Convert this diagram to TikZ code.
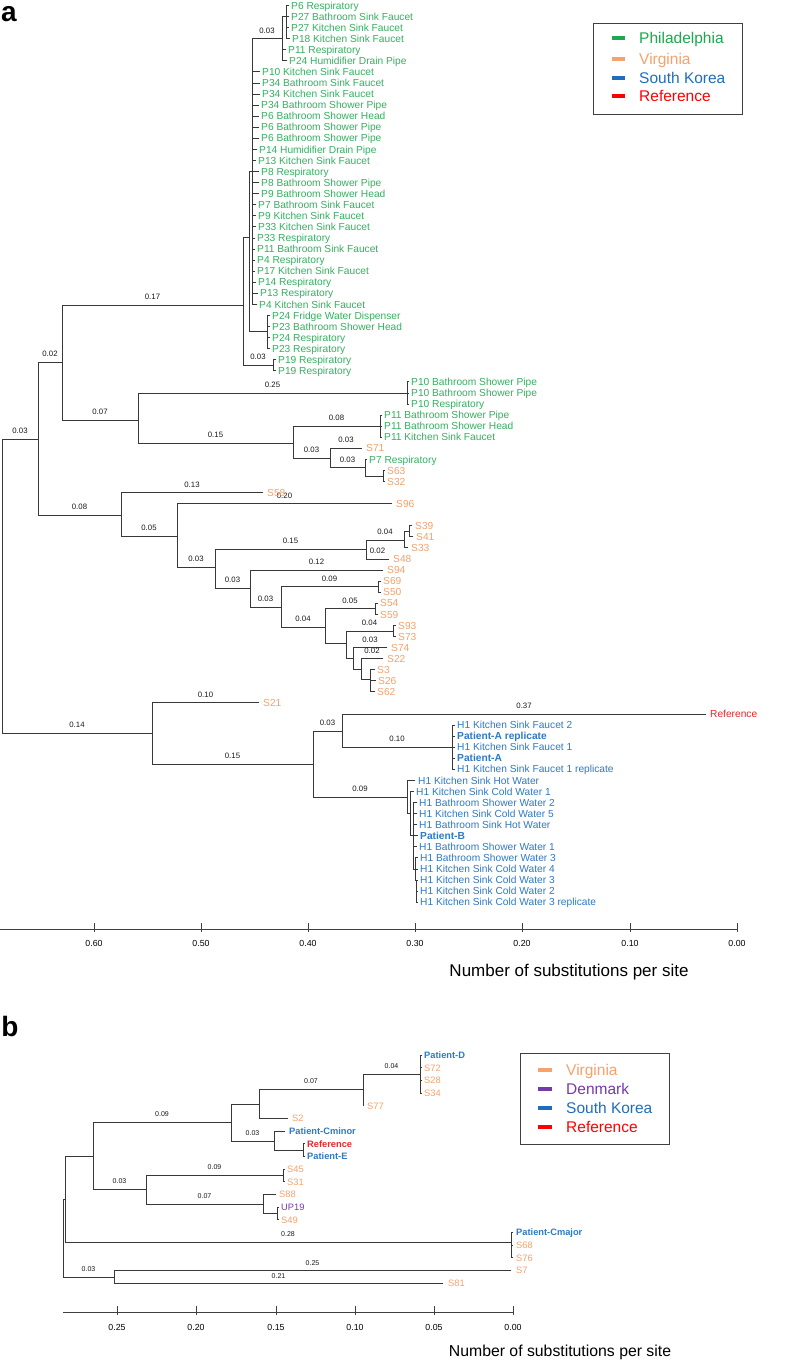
\documentclass[tikz,border=0pt]{standalone}
\usepackage{fontspec}
\setmainfont{Liberation Sans}
\definecolor{phil}{RGB}{52,176,96}
\definecolor{virg}{RGB}{245,162,108}
\definecolor{skor}{RGB}{46,122,196}
\definecolor{refc}{RGB}{238,36,40}
\definecolor{denm}{RGB}{118,58,168}
\definecolor{lgphil}{RGB}{28,168,78}
\definecolor{lgskor}{RGB}{30,110,190}
\begin{document}
\begin{tikzpicture}[x=1pt,y=-1pt,
  br/.style={draw=black!78,line width=0.9pt,line cap=rect},
  bl/.style={above,inner sep=0pt,yshift=5pt,font=\fontsize{7.8}{8}\selectfont,text=black!90},
  blb/.style={above,inner sep=0pt,yshift=4.5pt,font=\fontsize{7}{7}\selectfont,text=black!90},
  lf/.style={anchor=west,inner sep=0pt,text height=7.3pt,text depth=0pt,font=\fontsize{10.2}{11}\selectfont},
  lfb/.style={anchor=west,inner sep=0pt,text height=6.7pt,text depth=0pt,font=\fontsize{9.3}{10}\selectfont},
  ax/.style={draw=black!75,line width=1pt},
  tl/.style={inner sep=0pt,font=\fontsize{8.8}{9}\selectfont},
  lgd/.style={line width=4pt},
  lgt/.style={anchor=west,inner sep=0pt,text height=11pt,text depth=0pt,font=\fontsize{15.5}{16}\selectfont},
  pl/.style={inner sep=0pt,font=\fontsize{28}{30}\selectfont\bfseries}]
\useasboundingbox (0,0) rectangle (787,1361);
\fill[white] (0,0) rectangle (787,1361);

% ================= PANEL A =================
\node[pl] (pa) at (9,14) {a};

% root and backbone
\draw[br] (2,439) -- (2,733);
\draw[br] (2,439) -- node[bl] (ea1) {0.03} (38,439);
\draw[br] (2,733) -- node[bl] (ea2) {0.14} (152,733);
\draw[br] (38,362) -- (38,515);
\draw[br] (38,362) -- node[bl] (ea3) {0.02} (62,362);
\draw[br] (38,515) -- node[bl] (ea4) {0.08} (121,515);
\draw[br] (62,305) -- (62,420);
\draw[br] (62,305) -- node[bl] (ea5) {0.17} (243,305);
\draw[br] (62,420) -- node[bl] (ea6) {0.07} (138,420);

% Philadelphia big clade
\draw[br] (243,237) -- (243,365);
\draw[br] (243,365) -- node[bl] (ea7) {0.03} (273,365);
\draw[br] (273,359.7) -- (273,370.8);
\draw[br] (273,359.7) -- (276,359.7) (273,370.8) -- (276,370.8);
\draw[br] (243,237) -- (249,237);
\draw[br] (249,171) -- (249,331);
\draw[br] (249,171) -- (252,171);
\draw[br] (252,38.7) -- (252,304.4);
\draw[br] (252,38.7) -- node[bl] (ea8) {0.03} (282,38.7);
\draw[br] (282,16.6) -- (282,60.9);
\draw[br] (282,16.6) -- (286,16.6);
\draw[br] (286,5.5) -- (286,38.7);
\draw[br] (286,5.5) -- (289,5.5) (286,16.6) -- (289,16.6) (286,27.6) -- (289,27.6) (286,38.7) -- (290,38.7);
\draw[br] (282,49.8) -- (286,49.8) (282,60.9) -- (287,60.9);
\draw[br] (252,71.9) -- (260,71.9) (252,83.0) -- (260,83.0) (252,94.1) -- (260,94.1)
  (252,105.1) -- (259,105.1) (252,116.2) -- (259,116.2) (252,127.3) -- (259,127.3)
  (252,138.3) -- (259,138.3) (252,149.4) -- (257,149.4) (252,160.5) -- (256,160.5)
  (252,171.6) -- (259,171.6) (252,182.6) -- (259,182.6) (252,193.7) -- (259,193.7)
  (252,204.8) -- (256,204.8) (252,215.8) -- (256,215.8) (252,226.9) -- (256,226.9)
  (252,238.0) -- (255,238.0) (252,249.0) -- (255,249.0) (252,260.1) -- (255,260.1)
  (252,271.2) -- (255,271.2) (252,282.3) -- (256,282.3) (252,293.3) -- (258,293.3)
  (252,304.4) -- (257,304.4);
\draw[br] (249,331) -- (267,331);
\draw[br] (267,315.5) -- (267,348.7);
\draw[br] (267,315.5) -- (270,315.5) (267,326.5) -- (270,326.5) (267,337.6) -- (270,337.6) (267,348.7) -- (270,348.7);

\node[lf,text=phil] (a0) at (291,5.5) {P6 Respiratory};
\node[lf,text=phil] (a1) at (291,16.6) {P27 Bathroom Sink Faucet};
\node[lf,text=phil] (a2) at (291,27.6) {P27 Kitchen Sink Faucet};
\node[lf,text=phil] (a3) at (292,38.7) {P18 Kitchen Sink Faucet};
\node[lf,text=phil] (a4) at (288,49.8) {P11 Respiratory};
\node[lf,text=phil] (a5) at (289,60.9) {P24 Humidifier Drain Pipe};
\node[lf,text=phil] (a6) at (262,71.9) {P10 Kitchen Sink Faucet};
\node[lf,text=phil] (a7) at (262,83.0) {P34 Bathroom Sink Faucet};
\node[lf,text=phil] (a8) at (262,94.1) {P34 Kitchen Sink Faucet};
\node[lf,text=phil] (a9) at (261,105.1) {P34 Bathroom Shower Pipe};
\node[lf,text=phil] (a10) at (261,116.2) {P6 Bathroom Shower Head};
\node[lf,text=phil] (a11) at (261,127.3) {P6 Bathroom Shower Pipe};
\node[lf,text=phil] (a12) at (261,138.3) {P6 Bathroom Shower Pipe};
\node[lf,text=phil] (a13) at (259,149.4) {P14 Humidifier Drain Pipe};
\node[lf,text=phil] (a14) at (258,160.5) {P13 Kitchen Sink Faucet};
\node[lf,text=phil] (a15) at (261,171.6) {P8 Respiratory};
\node[lf,text=phil] (a16) at (261,182.6) {P8 Bathroom Shower Pipe};
\node[lf,text=phil] (a17) at (261,193.7) {P9 Bathroom Shower Head};
\node[lf,text=phil] (a18) at (258,204.8) {P7 Bathroom Sink Faucet};
\node[lf,text=phil] (a19) at (258,215.8) {P9 Kitchen Sink Faucet};
\node[lf,text=phil] (a20) at (258,226.9) {P33 Kitchen Sink Faucet};
\node[lf,text=phil] (a21) at (257,238.0) {P33 Respiratory};
\node[lf,text=phil] (a22) at (257,249.0) {P11 Bathroom Sink Faucet};
\node[lf,text=phil] (a23) at (257,260.1) {P4 Respiratory};
\node[lf,text=phil] (a24) at (257,271.2) {P17 Kitchen Sink Faucet};
\node[lf,text=phil] (a25) at (258,282.3) {P14 Respiratory};
\node[lf,text=phil] (a26) at (260,293.3) {P13 Respiratory};
\node[lf,text=phil] (a27) at (259,304.4) {P4 Kitchen Sink Faucet};
\node[lf,text=phil] (a28) at (272,315.5) {P24 Fridge Water Dispenser};
\node[lf,text=phil] (a29) at (272,326.5) {P23 Bathroom Shower Head};
\node[lf,text=phil] (a30) at (272,337.6) {P24 Respiratory};
\node[lf,text=phil] (a31) at (272,348.7) {P23 Respiratory};
\node[lf,text=phil] (a32) at (278,359.7) {P19 Respiratory};
\node[lf,text=phil] (a33) at (278,370.8) {P19 Respiratory};

% second Philadelphia clade
\draw[br] (138,393) -- (138,443);
\draw[br] (138,393) -- node[bl] (ea9) {0.25} (407,393);
\draw[br] (407,381.9) -- (407,404.0);
\draw[br] (407,381.9) -- (409,381.9) (407,393.0) -- (409,393.0) (407,404.0) -- (409,404.0);
\draw[br] (138,443) -- node[bl] (ea10) {0.15} (293,443);
\draw[br] (293,426) -- (293,458);
\draw[br] (293,426) -- node[bl] (ea11) {0.08} (380,426);
\draw[br] (380,415.1) -- (380,437.2);
\draw[br] (380,415.1) -- (382,415.1) (380,426.2) -- (382,426.2) (380,437.2) -- (382,437.2);
\draw[br] (293,458) -- node[bl] (ea12) {0.03} (330,458);
\draw[br] (330,448.3) -- (330,467.7);
\draw[br] (330,448.3) -- node[bl] (ea13) {0.03} (362,448.3);
\draw[br] (330,467.7) -- node[bl] (ea14) {0.03} (365,467.7);
\draw[br] (365,459.4) -- (365,476);
\draw[br] (365,459.4) -- (367,459.4);
\draw[br] (365,476) -- (383,476);
\draw[br] (383,470.4) -- (383,481.5);
\draw[br] (383,470.4) -- (385,470.4) (383,481.5) -- (385,481.5);

\node[lf,text=phil] (a34) at (411,381.9) {P10 Bathroom Shower Pipe};
\node[lf,text=phil] (a35) at (411,393.0) {P10 Bathroom Shower Pipe};
\node[lf,text=phil] (a36) at (411,404.0) {P10 Respiratory};
\node[lf,text=phil] (a37) at (384,415.1) {P11 Bathroom Shower Pipe};
\node[lf,text=phil] (a38) at (384,426.2) {P11 Bathroom Shower Head};
\node[lf,text=phil] (a39) at (384,437.2) {P11 Kitchen Sink Faucet};
\node[lf,text=virg] (a40) at (366,448.3) {S71};
\node[lf,text=phil] (a41) at (369,459.4) {P7 Respiratory};
\node[lf,text=virg] (a42) at (387,470.4) {S63};
\node[lf,text=virg] (a43) at (387,481.5) {S32};

% Virginia clade
\draw[br] (121,492.6) -- (121,536);
\draw[br] (121,492.6) -- node[bl] (ea15) {0.13} (263,492.6);
\draw[br] (121,536) -- node[bl] (ea16) {0.05} (177,536);
\draw[br] (177,503.7) -- (177,567);
\draw[br] (177,503.7) -- node[bl] (ea17) {0.20} (392,503.7);
\draw[br] (177,567) -- node[bl] (ea18) {0.03} (215,567);
\draw[br] (215,549) -- (215,588);
\draw[br] (215,549) -- node[bl] (ea19) {0.15} (366,549);
\draw[br] (215,588) -- node[bl] (ea20) {0.03} (250,588);
\draw[br] (366,540) -- (366,559);
\draw[br] (366,540) -- node[bl] (ea21) {0.04} (404,540);
\draw[br] (366,559) -- node[bl] (ea22) {0.02} (389,559);
\draw[br] (404,531) -- (404,547.9);
\draw[br] (404,531) -- (409,531);
\draw[br] (409,525.8) -- (409,536.9);
\draw[br] (409,525.8) -- (412,525.8) (409,536.9) -- (413,536.9) (404,547.9) -- (408,547.9);
\draw[br] (250,570.1) -- (250,607);
\draw[br] (250,570.1) -- node[bl] (ea23) {0.12} (383,570.1);
\draw[br] (250,607) -- node[bl] (ea24) {0.03} (281,607);
\draw[br] (281,586.7) -- (281,627);
\draw[br] (281,586.7) -- node[bl] (ea25) {0.09} (378,586.7);
\draw[br] (378,581.1) -- (378,592.2);
\draw[br] (378,581.1) -- (381,581.1) (378,592.2) -- (381,592.2);
\draw[br] (281,627) -- node[bl] (ea26) {0.04} (325,627);
\draw[br] (325,608.8) -- (325,643);
\draw[br] (325,608.8) -- node[bl] (ea27) {0.05} (375,608.8);
\draw[br] (375,603.3) -- (375,614.4);
\draw[br] (375,603.3) -- (378,603.3) (375,614.4) -- (378,614.4);
\draw[br] (325,643) -- (346,643);
\draw[br] (346,631) -- (346,658);
\draw[br] (346,631) -- node[bl] (ea28) {0.04} (393,631);
\draw[br] (393,625.4) -- (393,636.5);
\draw[br] (393,625.4) -- (396,625.4) (393,636.5) -- (396,636.5);
\draw[br] (346,658) -- (353,658);
\draw[br] (353,647.6) -- (353,669);
\draw[br] (353,647.6) -- node[bl] (ea29) {0.03} (387,647.6);
\draw[br] (353,669) -- (361,669);
\draw[br] (361,658.6) -- (361,679);
\draw[br] (361,658.6) -- node[bl] (ea30) {0.02} (383,658.6);
\draw[br] (361,679) -- (370,679);
\draw[br] (370,669.7) -- (370,691.8);
\draw[br] (370,669.7) -- (375,669.7) (370,680.8) -- (376,680.8) (370,691.8) -- (375,691.8);

\node[lf,text=virg] (a44) at (267,492.6) {S58};
\node[lf,text=virg] (a45) at (396,503.7) {S96};
\node[lf,text=virg] (a47) at (415,525.8) {S39};
\node[lf,text=virg] (a48) at (416,536.9) {S41};
\node[lf,text=virg] (a49) at (411,547.9) {S33};
\node[lf,text=virg] (a50) at (393,559.0) {S48};
\node[lf,text=virg] (a51) at (387,570.1) {S94};
\node[lf,text=virg] (a52) at (383,581.1) {S69};
\node[lf,text=virg] (a53) at (383,592.2) {S50};
\node[lf,text=virg] (a54) at (380,603.3) {S54};
\node[lf,text=virg] (a55) at (380,614.4) {S59};
\node[lf,text=virg] (a56) at (398,625.4) {S93};
\node[lf,text=virg] (a57) at (398,636.5) {S73};
\node[lf,text=virg] (a58) at (391,647.6) {S74};
\node[lf,text=virg] (a59) at (387,658.6) {S22};
\node[lf,text=virg] (a60) at (377,669.7) {S3};
\node[lf,text=virg] (a61) at (378,680.8) {S26};
\node[lf,text=virg] (a62) at (377,691.8) {S62};

% South Korea clade
\draw[br] (152,702.9) -- (152,764);
\draw[br] (152,702.9) -- node[bl] (ea31) {0.10} (259,702.9);
\draw[br] (152,764) -- node[bl] (ea32) {0.15} (313,764);
\draw[br] (313,731) -- (313,797);
\draw[br] (313,731) -- node[bl] (ea33) {0.03} (342,731);
\draw[br] (313,797) -- node[bl] (ea34) {0.09} (407,797);
\draw[br] (342,714) -- (342,747.2);
\draw[br] (342,714) -- node[bl] (ea35) {0.37} (706,714);
\draw[br] (342,747.2) -- node[bl] (ea36) {0.10} (452,747.2);
\draw[br] (452,725.1) -- (452,769.3);
\draw[br] (452,725.1) -- (455,725.1) (452,736.1) -- (455,736.1) (452,747.2) -- (455,747.2)
  (452,758.3) -- (455,758.3) (452,769.3) -- (455,769.3);
\draw[br] (407,780.4) -- (407,813);
\draw[br] (407,780.4) -- (415,780.4);
\draw[br] (407,813) -- (410,813);
\draw[br] (410,791.5) -- (410,835);
\draw[br] (410,791.5) -- (414,791.5);
\draw[br] (410,835) -- (413,835);
\draw[br] (413,802.5) -- (413,869);
\draw[br] (413,802.5) -- (417,802.5) (413,813.6) -- (417,813.6) (413,824.7) -- (417,824.7)
  (413,835.8) -- (418,835.8) (413,846.8) -- (417,846.8);
\draw[br] (413,869) -- (415,869);
\draw[br] (415,857.9) -- (415,880);
\draw[br] (415,857.9) -- (418,857.9) (415,869.0) -- (418,869.0);
\draw[br] (415,880) -- (416,880);
\draw[br] (416,880.0) -- (416,902.2);
\draw[br] (416,880.0) -- (418,880.0) (416,891.1) -- (418,891.1) (416,902.2) -- (418,902.2);

\node[lf,text=virg] (a63) at (263,702.9) {S21};
\node[lf,text=refc] (a64) at (710,714.0) {Reference};
\node[lf,text=skor] (a65) at (457,725.1) {H1 Kitchen Sink Faucet 2};
\node[lf,text=skor,font=\fontsize{10.2}{11}\selectfont\bfseries] (a66) at (457,736.1) {Patient-A replicate};
\node[lf,text=skor] (a67) at (457,747.2) {H1 Kitchen Sink Faucet 1};
\node[lf,text=skor,font=\fontsize{10.2}{11}\selectfont\bfseries] (a68) at (457,758.3) {Patient-A};
\node[lf,text=skor] (a69) at (457,769.3) {H1 Kitchen Sink Faucet 1 replicate};
\node[lf,text=skor] (a70) at (418,780.4) {H1 Kitchen Sink Hot Water};
\node[lf,text=skor] (a71) at (416,791.5) {H1 Kitchen Sink Cold Water 1};
\node[lf,text=skor] (a72) at (419,802.5) {H1 Bathroom Shower Water 2};
\node[lf,text=skor] (a73) at (419,813.6) {H1 Kitchen Sink Cold Water 5};
\node[lf,text=skor] (a74) at (419,824.7) {H1 Bathroom Sink Hot Water};
\node[lf,text=skor,font=\fontsize{10.2}{11}\selectfont\bfseries] (a75) at (420,835.8) {Patient-B};
\node[lf,text=skor] (a76) at (419,846.8) {H1 Bathroom Shower Water 1};
\node[lf,text=skor] (a77) at (420,857.9) {H1 Bathroom Shower Water 3};
\node[lf,text=skor] (a78) at (420,869.0) {H1 Kitchen Sink Cold Water 4};
\node[lf,text=skor] (a79) at (420,880.0) {H1 Kitchen Sink Cold Water 3};
\node[lf,text=skor] (a80) at (420,891.1) {H1 Kitchen Sink Cold Water 2};
\node[lf,text=skor] (a81) at (420,902.2) {H1 Kitchen Sink Cold Water 3 replicate};

% axis a
\draw[ax] (0,929) -- (737,929);
\draw[ax] (94,923) -- (94,932) (201,923) -- (201,932) (308,923) -- (308,932) (415,923) -- (415,932)
  (522,923) -- (522,932) (630,923) -- (630,932) (737,923) -- (737,932);
\node[tl] (ta1) at (94,943) {0.60};
\node[tl] (ta2) at (201,943) {0.50};
\node[tl] (ta3) at (308,943) {0.40};
\node[tl] (ta4) at (415,943) {0.30};
\node[tl] (ta5) at (522,943) {0.20};
\node[tl] (ta6) at (630,943) {0.10};
\node[tl] (ta7) at (737,943) {0.00};
\node[inner sep=0pt,font=\fontsize{17}{18}\selectfont] (tta) at (569,972) {Number of substitutions per site};

% legend a
\draw[draw=black!75,line width=1pt] (593,23) rectangle (742,114);
\draw[lgd,lgphil] (612,38.3) -- (625,38.3);
\draw[lgd,virg] (612,58.5) -- (625,58.5);
\draw[lgd,lgskor] (612,77.5) -- (625,77.5);
\draw[lgd,red] (612,96) -- (625,96);
\node[lgt,text=lgphil] (lga1) at (639,38.3) {Philadelphia};
\node[lgt,text=virg] (lga2) at (639,58.5) {Virginia};
\node[lgt,text=lgskor] (lga3) at (639,77.5) {South Korea};
\node[lgt,text=red] (lga4) at (639,96) {Reference};

% ================= PANEL B =================
\node[pl] (pb) at (10,1026) {b};

\draw[br] (63,1199) -- (63,1277);
\draw[br] (63,1199) -- (65,1199);
\draw[br] (65,1156) -- (65,1242);
\draw[br] (65,1156) -- (93,1156);
\draw[br] (93,1122) -- (93,1189);
\draw[br] (93,1122) -- node[blb] (eb1) {0.09} (231,1122);
\draw[br] (231,1104) -- (231,1141);
\draw[br] (231,1104) -- (259,1104);
\draw[br] (259,1089) -- (259,1118.4);
\draw[br] (259,1089) -- node[blb] (eb2) {0.07} (363,1089);
\draw[br] (259,1118.4) -- (288,1118.4);
\draw[br] (363,1074) -- (363,1105.7);
\draw[br] (363,1074) -- node[blb] (eb3) {0.04} (420,1074);
\draw[br] (363,1105.7) -- (364,1105.7);
\draw[br] (420,1055) -- (420,1093);
\draw[br] (420,1055) -- (422,1055) (420,1067.7) -- (422,1067.7) (420,1080.4) -- (422,1080.4) (420,1093) -- (422,1093);
\draw[br] (231,1141) -- node[blb] (eb4) {0.03} (274,1141);
\draw[br] (274,1131.1) -- (274,1150);
\draw[br] (274,1131.1) -- (285,1131.1);
\draw[br] (274,1150) -- (303,1150);
\draw[br] (303,1143.8) -- (303,1156.4);
\draw[br] (303,1143.8) -- (305,1143.8) (303,1156.4) -- (305,1156.4);
\draw[br] (93,1189) -- node[blb] (eb5) {0.03} (146,1189);
\draw[br] (146,1175) -- (146,1204);
\draw[br] (146,1175) -- node[blb] (eb6) {0.09} (283,1175);
\draw[br] (283,1169.1) -- (283,1181.8);
\draw[br] (283,1169.1) -- (285,1169.1) (283,1181.8) -- (285,1181.8);
\draw[br] (146,1204) -- node[blb] (eb7) {0.07} (263,1204);
\draw[br] (263,1194.5) -- (263,1213);
\draw[br] (263,1194.5) -- (276,1194.5);
\draw[br] (263,1213) -- (277,1213);
\draw[br] (277,1207.2) -- (277,1219.8);
\draw[br] (277,1207.2) -- (279,1207.2) (277,1219.8) -- (279,1219.8);
\draw[br] (65,1242) -- node[blb] (eb8) {0.28} (511,1242);
\draw[br] (511,1232.5) -- (511,1257.9);
\draw[br] (511,1232.5) -- (513,1232.5) (511,1245.2) -- (513,1245.2) (511,1257.9) -- (513,1257.9);
\draw[br] (63,1277) -- node[blb] (eb9) {0.03} (114,1277);
\draw[br] (114,1270.6) -- (114,1283.2);
\draw[br] (114,1270.6) -- node[blb] (eb10) {0.25} (511,1270.6);
\draw[br] (114,1283.2) -- node[blb] (eb11) {0.21} (443,1283.2);

\node[lfb,text=skor,font=\fontsize{9.3}{10}\selectfont\bfseries] (b0) at (424,1055) {Patient-D};
\node[lfb,text=virg] (b1) at (424,1067.7) {S72};
\node[lfb,text=virg] (b2) at (424,1080.4) {S28};
\node[lfb,text=virg] (b3) at (424,1093) {S34};
\node[lfb,text=virg] (b4) at (367,1105.7) {S77};
\node[lfb,text=virg] (b5) at (292,1118.4) {S2};
\node[lfb,text=skor,font=\fontsize{9.3}{10}\selectfont\bfseries] (b6) at (289,1131.1) {Patient-Cminor};
\node[lfb,text=refc,font=\fontsize{9.3}{10}\selectfont\bfseries] (b7) at (307,1143.8) {Reference};
\node[lfb,text=skor,font=\fontsize{9.3}{10}\selectfont\bfseries] (b8) at (307,1156.4) {Patient-E};
\node[lfb,text=virg] (b9) at (287,1169.1) {S45};
\node[lfb,text=virg] (b10) at (287,1181.8) {S31};
\node[lfb,text=virg] (b11) at (279,1194.5) {S88};
\node[lfb,text=denm] (b12) at (281,1207.2) {UP19};
\node[lfb,text=virg] (b13) at (281,1219.8) {S49};
\node[lfb,text=skor,font=\fontsize{9.3}{10}\selectfont\bfseries] (b14) at (516,1232.5) {Patient-Cmajor};
\node[lfb,text=virg] (b15) at (516,1245.2) {S68};
\node[lfb,text=virg] (b16) at (516,1257.9) {S76};
\node[lfb,text=virg] (b17) at (516,1270.6) {S7};
\node[lfb,text=virg] (b18) at (448,1283.2) {S81};

% axis b
\draw[ax] (63,1312) -- (513,1312);
\draw[ax] (117,1306) -- (117,1315) (196,1306) -- (196,1315) (276,1306) -- (276,1315)
  (355,1306) -- (355,1315) (434,1306) -- (434,1315) (513,1306) -- (513,1315);
\node[tl] (tb1) at (117,1327) {0.25};
\node[tl] (tb2) at (196,1327) {0.20};
\node[tl] (tb3) at (276,1327) {0.15};
\node[tl] (tb4) at (355,1327) {0.10};
\node[tl] (tb5) at (434,1327) {0.05};
\node[tl] (tb6) at (513,1327) {0.00};
\node[inner sep=0pt,font=\fontsize{15.8}{17}\selectfont] (ttb) at (560,1352) {Number of substitutions per site};

% legend b
\draw[draw=black!75,line width=1pt] (520,1053) rectangle (669,1144);
\draw[lgd,virg] (538,1070) -- (552,1070);
\draw[lgd,denm] (538,1089) -- (552,1089);
\draw[lgd,lgskor] (538,1108) -- (552,1108);
\draw[lgd,red] (538,1127) -- (552,1127);
\node[lgt,text=virg] (lgb1) at (566,1070) {Virginia};
\node[lgt,text=denm] (lgb2) at (566,1089) {Denmark};
\node[lgt,text=lgskor] (lgb3) at (566,1108) {South Korea};
\node[lgt,text=red] (lgb4) at (566,1127) {Reference};
\end{tikzpicture}
\end{document}
